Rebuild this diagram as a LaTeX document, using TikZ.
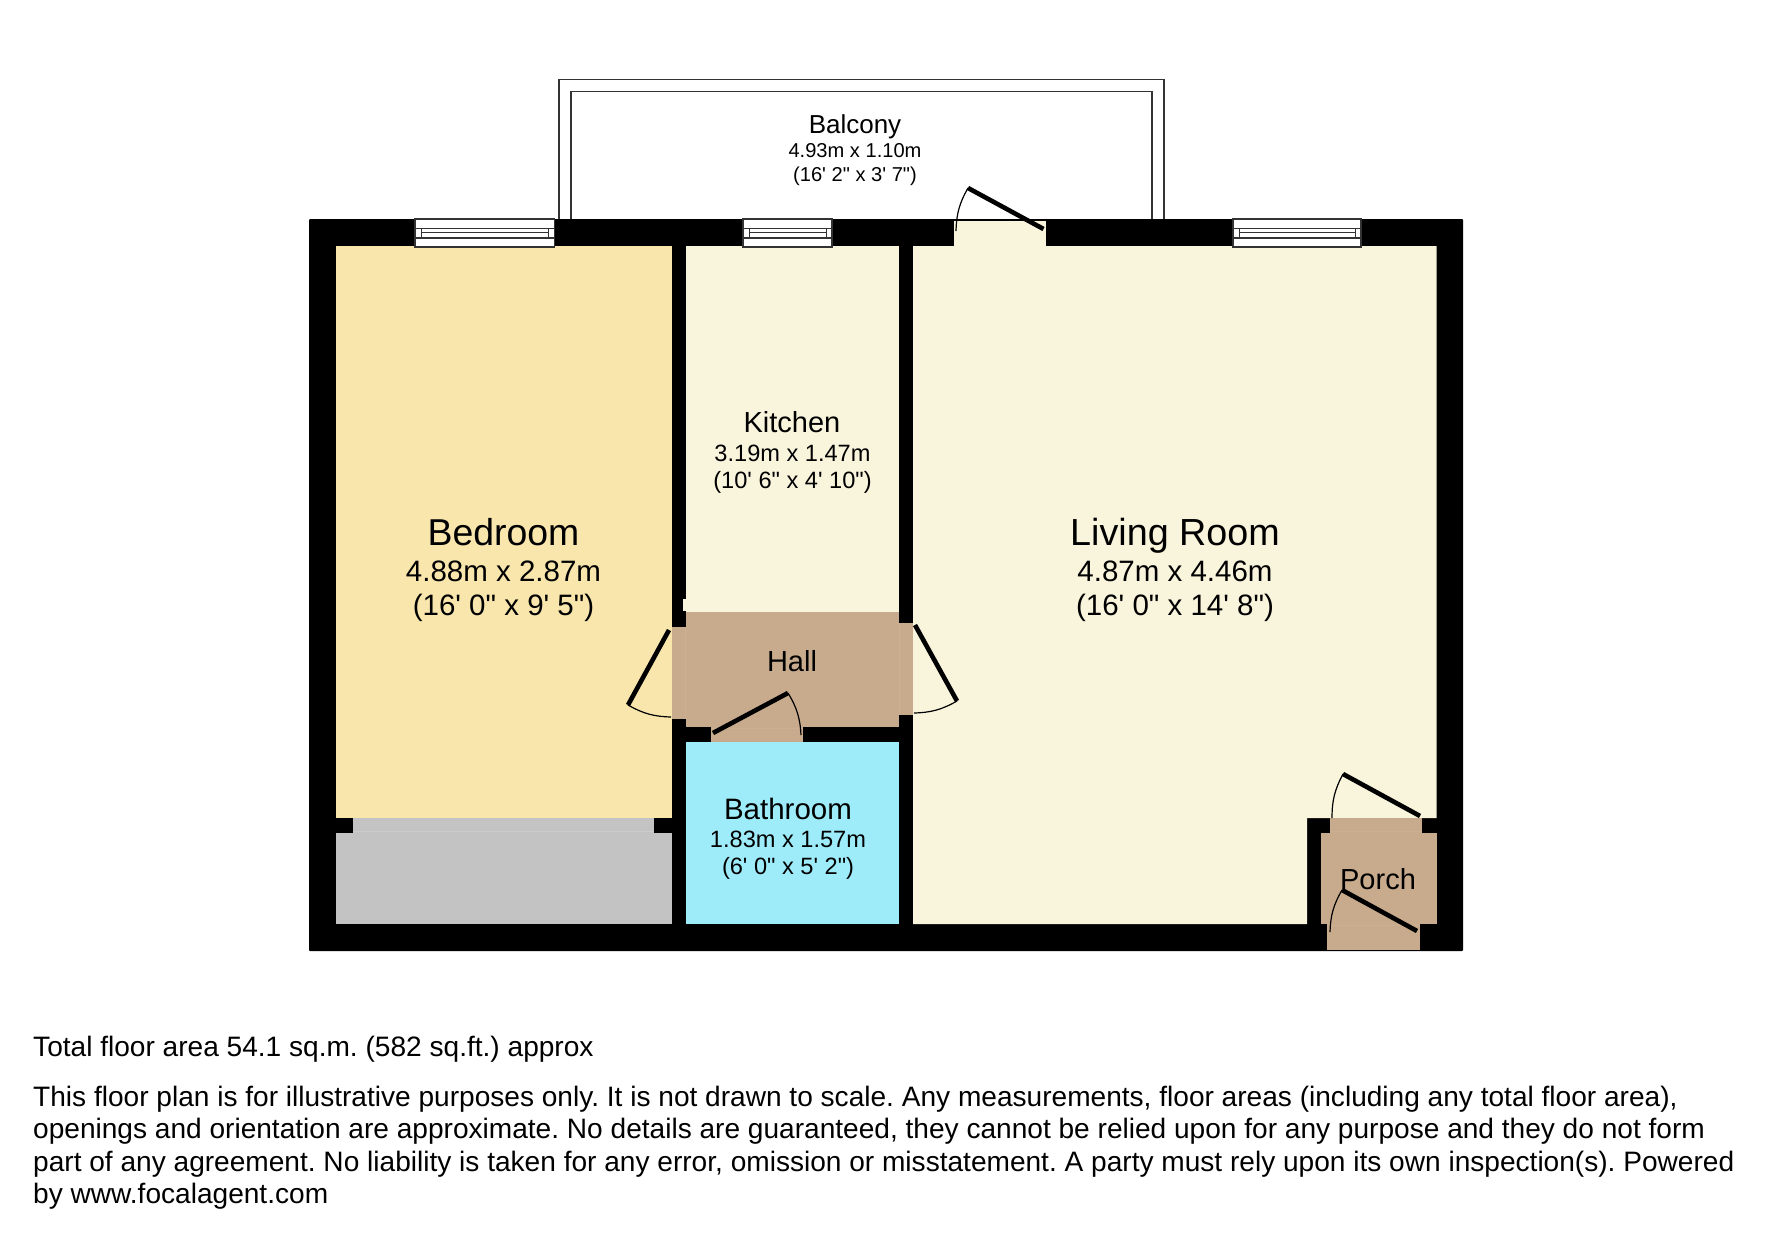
\documentclass[tikz,border=0pt]{standalone}
\usepackage{fontspec}
\setmainfont{Liberation Sans}
\newfontfamily\plainf{Liberation Sans}
\definecolor{bedc}{HTML}{F8E6AD}
\definecolor{livc}{HTML}{F9F4DC}
\definecolor{hallc}{HTML}{C8AB8C}
\definecolor{hallseam}{HTML}{CCB094}
\definecolor{bathc}{HTML}{9EECF9}
\definecolor{greyc}{HTML}{C3C3C3}
\definecolor{greyseam}{HTML}{CBCBCB}
\definecolor{winline}{HTML}{333333}
\newcommand{\fsz}[1]{\fontsize{#1}{#1}\selectfont\plainf\frenchspacing}
\newcommand{\winbox}[2]{%
  \fill[white] (#1,219) rectangle (#2,247);
  \draw[winline,line width=1.2] (#1,219) rectangle (#2,247);
  \draw[winline,line width=1.2] (#1,228.5) -- (#2,228.5) (#1,238) -- (#2,238);
  \draw[winline,line width=.8] (#1+6,228.5) -- (#1+6,238) (#2-6,228.5) -- (#2-6,238) (#1+6,232.5) -- (#2-6,232.5);
}
\tikzset{
  x=1pt,y=-1pt,
  leaf/.style={line width=4.6,black},
  swing/.style={line width=1.2,black},
  lab/.style={inner sep=0pt,align=center,text=black},
  foot/.style={inner sep=0pt,anchor=base west,text=black,font=\fsz{28.08}},
}
\begin{document}
\begin{tikzpicture}
\useasboundingbox (0,0) rectangle (1771,1239);
\fill[white] (0,0) rectangle (1771,1239);
% balcony
\draw[winline,line width=1.4] (559,219) |- (1164,79.5) -- (1164,219);
\draw[winline,line width=1.4] (571,219) |- (1152,91.5) -- (1152,219);
% outer walls
\fill[black,rounded corners=1] (309,219) rectangle (1463,951);
% rooms
\fill[bedc] (336,246) rectangle (672,818);
\fill[greyc] (336,833) rectangle (672,924);
\fill[greyc] (353,818) rectangle (654,833);
\draw[greyseam,line width=.8] (353,831) -- (654,831);
\fill[livc] (686,246) rectangle (899,612);
\fill[livc] (683,599) rectangle (686,611);
\fill[livc] (913,246) -- (1436.5,246) -- (1436.5,818) -- (1307,818) -- (1307,924) -- (913,924) -- cycle;
\fill[livc] (954,221) rectangle (1046,246);
\fill[bathc] (686,742) rectangle (899,924);
\fill[hallc] (686,612) rectangle (899,727);
\fill[hallc] (672,627) rectangle (686,719);
\fill[hallc] (899,623) rectangle (913,715);
\fill[hallc] (711,727) rectangle (803,741.5);
\draw[hallseam,line width=.6] (685,627) -- (685,719) (899.5,623) -- (899.5,715) (711,728) -- (803,728);
\fill[hallc] (1321,833) rectangle (1437,924);
\fill[hallc] (1330,818) rectangle (1422,833);
\fill[hallc] (1327,924) rectangle (1420,950);
\draw[hallseam,line width=.6] (1330,831) -- (1422,831) (1327,925) -- (1420,925);
% windows
\winbox{415}{554.5}
\winbox{743}{832}
\winbox{1233}{1361}
% doors
\draw[leaf] (968,188) -- (1043.5,229);
\draw[swing] (968,188) to[bend right=14] (956,231);
\draw[leaf] (669,630) -- (628,705);
\draw[swing] (628,705) to[bend right=14] (671,717);
\draw[leaf] (915,625) -- (957,701);
\draw[swing] (957,701) to[bend left=14] (914,713);
\draw[leaf] (713,733) -- (788,693);
\draw[swing] (788,693) to[bend left=14] (801,735);
\draw[leaf] (1343,774) -- (1420,816);
\draw[swing] (1343,774) to[bend right=14] (1332,818);
\draw[leaf] (1342,890) -- (1417,931);
\draw[swing] (1342,890) to[bend right=14] (1330,932);
% labels
\node[lab,anchor=base] (balcony) at (855,133) {\fsz{26}Balcony};
\node[lab,anchor=base] (balconya) at (855,157) {\fsz{20.1}4.93m x 1.10m};
\node[lab,anchor=base] (balconyb) at (855,181) {\fsz{20.1}(16' 2" x 3' 7")};
\node[lab,anchor=base] (bedroom) at (503.5,545) {\fsz{37.4}Bedroom};
\node[lab,anchor=base] (bedrooma) at (503.5,581) {\fsz{29.5}4.88m x 2.87m};
\node[lab,anchor=base] (bedroomb) at (503.5,615) {\fsz{29.5}(16' 0" x 9' 5")};
\node[lab,anchor=base] (kitchen) at (792,432) {\fsz{29}Kitchen};
\node[lab,anchor=base] (kitchena) at (792.5,461) {\fsz{23.6}3.19m x 1.47m};
\node[lab,anchor=base] (kitchenb) at (792.5,488) {\fsz{23.6}(10' 6" x 4' 10")};
\node[lab,anchor=base] (living) at (1175,545) {\fsz{37.7}Living Room};
\node[lab,anchor=base] (livinga) at (1175,581) {\fsz{29.5}4.87m x 4.46m};
\node[lab,anchor=base] (livingb) at (1175,615) {\fsz{29.5}(16' 0" x 14' 8")};
\node[lab,anchor=base] (hall) at (792,671) {\fsz{29}Hall};
\node[lab,anchor=base] (bath) at (788,819) {\fsz{29.5}Bathroom};
\node[lab,anchor=base] (batha) at (788,847) {\fsz{23.6}1.83m x 1.57m};
\node[lab,anchor=base] (bathb) at (788,874) {\fsz{23.6}(6' 0" x 5' 2")};
\node[lab,anchor=base] (porch) at (1378,889) {\fsz{29}Porch};
% footer
\node[foot] (f1) at (33,1056) {Total floor area 54.1 sq.m. (582 sq.ft.) approx};
\node[foot] (f2) at (33,1106) {This floor plan is for illustrative purposes only. It is not drawn to scale. Any measurements, floor areas (including any total floor area),};
\node[foot] (f3) at (33,1138) {openings and orientation are approximate. No details are guaranteed, they cannot be relied upon for any purpose and they do not form};
\node[foot] (f4) at (33,1171) {part of any agreement. No liability is taken for any error, omission or misstatement. A party must rely upon its own inspection(s). Powered};
\node[foot] (f5) at (33,1203) {by www.focalagent.com};
\end{tikzpicture}
\end{document}
